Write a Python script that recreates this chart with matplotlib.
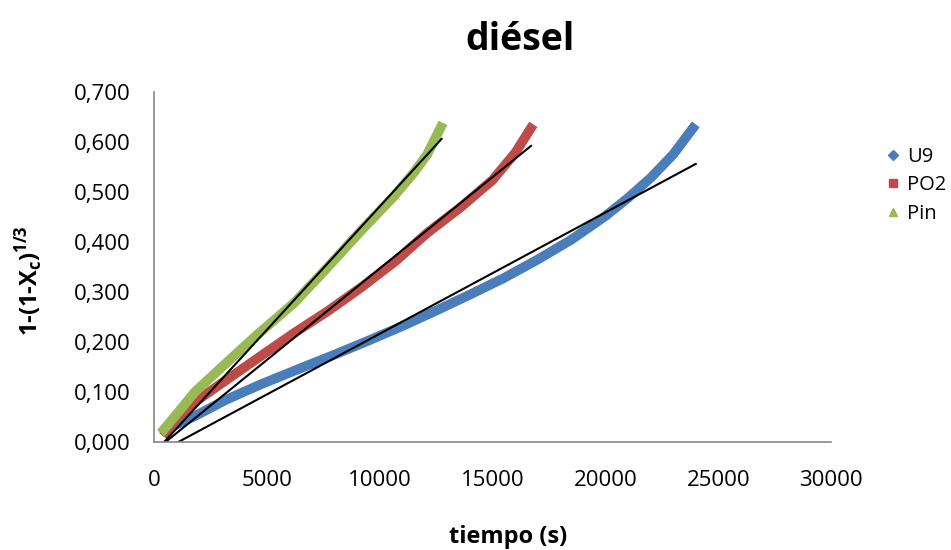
import matplotlib
matplotlib.use("Agg")
import matplotlib.pyplot as plt
from matplotlib.lines import Line2D
from matplotlib.ticker import FuncFormatter

plt.rcParams['font.family'] = ['Open Sans', 'DejaVu Sans']
plt.rcParams['mathtext.fontset'] = 'custom'
plt.rcParams['mathtext.rm'] = 'Open Sans'
plt.rcParams['mathtext.bf'] = 'Open Sans:bold'

# datos (tiempo en s)
t_u9 = [500, 1800, 3200, 4700, 6500, 8000, 9500, 11000, 12500, 14000, 15500, 17000,
        18500, 20000, 21000, 22000, 23000, 24000]
y_u9 = [0.025, 0.052, 0.085, 0.115, 0.148, 0.175, 0.203, 0.232, 0.263, 0.295, 0.328, 0.365,
        0.405, 0.452, 0.488, 0.528, 0.575, 0.635]

t_po2 = [400, 1000, 1800, 3000, 4500, 6200, 7700, 9200, 10700, 12100, 13600, 15000, 16000, 16800]
y_po2 = [0.012, 0.048, 0.080, 0.118, 0.165, 0.218, 0.262, 0.310, 0.362, 0.418, 0.470, 0.524,
         0.578, 0.635]

t_pin = [300, 1000, 1800, 3000, 4500, 6200, 7700, 9200, 10600, 11500, 12100, 12800]
y_pin = [0.018, 0.056, 0.100, 0.150, 0.212, 0.278, 0.350, 0.424, 0.490, 0.538, 0.575, 0.638]

# lineas de tendencia (extremos)
tr_u9_t = [1060, 24000]
tr_u9_y = [0.000, 0.556]
tr_po2_t = [500, 16700]
tr_po2_y = [0.000, 0.592]
tr_pin_t = [440, 12740]
tr_pin_y = [0.000, 0.606]

nombres = ["U9", "PO2", "Pin"]
colores = ["#4A7EBB", "#BE4B48", "#98B954"]
marcas = ["D", "s", "^"]

fig = plt.figure(figsize=(9.51, 5.5), dpi=100)
ax = fig.add_axes([0.162, 0.196, 0.712, 0.637])

ax.plot(t_u9, y_u9, color=colores[0], lw=7, solid_capstyle='butt')
ax.plot(t_po2, y_po2, color=colores[1], lw=7, solid_capstyle='butt')
ax.plot(t_pin, y_pin, color=colores[2], lw=7, solid_capstyle='butt')

ax.plot(tr_u9_t, tr_u9_y, color="black", lw=1.5)
ax.plot(tr_po2_t, tr_po2_y, color="black", lw=1.5)
ax.plot(tr_pin_t, tr_pin_y, color="black", lw=1.5)

ax.set_xlim(0, 30000)
ax.set_ylim(0, 0.7)
ax.set_xticks([0, 5000, 10000, 15000, 20000, 25000, 30000])
ax.set_yticks([0, 0.1, 0.2, 0.3, 0.4, 0.5, 0.6, 0.7])
ax.yaxis.set_major_formatter(FuncFormatter(lambda v, p: f"{v:.3f}".replace(".", ",")))
ax.xaxis.set_major_formatter(FuncFormatter(lambda v, p: f"{int(v)}"))
ax.tick_params(length=0, labelsize=16)
ax.tick_params(axis='y', pad=17)
ax.tick_params(axis='x', pad=20)

for s in ["top", "right"]:
    ax.spines[s].set_visible(False)
for s in ["left", "bottom"]:
    ax.spines[s].set_color("#868686")
    ax.spines[s].set_linewidth(1.2)

fig.text(0.547, 0.927, "diésel", fontsize=27, fontweight="bold", ha="center", va="center")
fig.text(0.534, 0.024, "tiempo (s)", fontsize=17, fontweight="bold", ha="center", va="center")
fig.text(0.032, 0.49, r"1-(1-X$_\mathbf{c}$)$^\mathbf{1/3}$", fontsize=17, fontweight="bold",
         rotation=90, ha="center", va="center")

handles = [Line2D([], [], ls="none", marker=m, color=c, markersize=6 if m != "D" else 5)
           for m, c in zip(marcas, colores)]
fig.legend(handles, nombres, loc="upper left", bbox_to_anchor=(0.934, 0.733), frameon=False,
           fontsize=14.5, handlelength=0.5, handletextpad=0.45, labelspacing=0.42, borderpad=0,
           borderaxespad=0)

fig.savefig("out.png", dpi=100)
